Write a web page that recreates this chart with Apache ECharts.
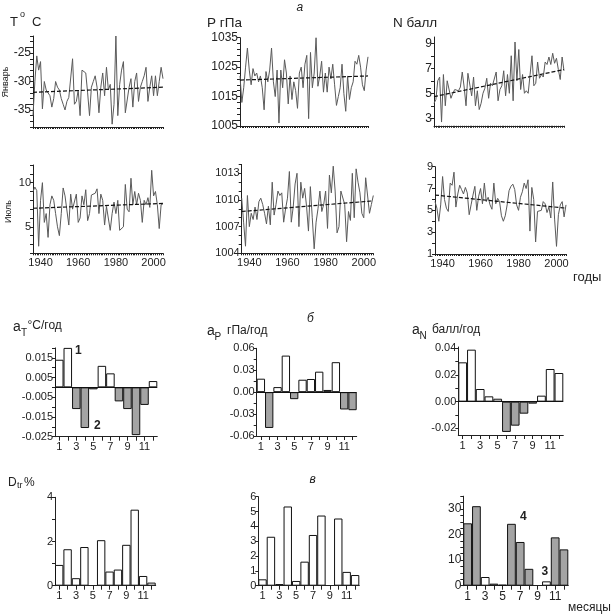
<!DOCTYPE html>
<html><head><meta charset="utf-8">
<script src="https://cdn.jsdelivr.net/npm/echarts@6/dist/echarts.min.js"></script>
<style>html,body{margin:0;padding:0;background:#fff}#c{width:611px;height:616px}</style>
</head><body><div id="c"></div>
<script>
// ---------- DATA ----------
const firstYear = 1936, lastYear = 2005;
const tJan = [-36,-30,-25.5,-28,-26.5,-34.8,-30,-31.5,-31.8,-32.5,
 -34.5,-33,-30,-31,-31.5,-33,-34,-35,-33.5,-32.8,
 -32.5,-26,-34,-33.5,-31.5,-36,-28,-28.2,-28.5,-32,
 -36,-31,-30,-29,-31,-35.5,-31,-28.5,-32.5,-27.5,
 -31.5,-30.5,-37.5,-34,-22,-36,-30.5,-28,-26.5,-35.5,
 -35.5,-31,-29.5,-34.5,-30,-28.5,-33.5,-31,-30,-29,
 -27.5,-33.5,-31,-29,-32.5,-29,-32.5,-30,-27.5,-29.5];
const pJan = [1022,1013,1018,1025,1031.5,1024,1019,1024.5,1022,1023,
 1020,1022,1018,1010.5,1023.5,1020,1024,1031.5,1020,1015,
 1024,1006,1024,1018,1027.5,1023,1012.5,1022,1014,1020,
 1017,1011,1023,1025,1018,1026,1029,1007.5,1030,1018,
 1023,1035,1018.5,1022,1027,1016.5,1023,1016.5,1025,1021,
 1026,1019,1012,1015,1018,1026,1016,1010,1022,1014,
 1018,1020,1027,1026,1029,1025,1019,1017,1024,1028.5];
const nJan = [4.2,4.5,6.0,6.3,2.7,6.5,4.0,6.0,5.9,4.6,
 5.0,5.3,5.4,5.2,5.5,6.7,5.5,4.0,6.6,6.6,
 4.8,6.3,4.0,5.2,3.7,4.2,5.0,5.4,6.2,4.6,
 5.8,5.6,5.5,6.7,4.4,5.3,5.6,6.8,4.8,6.5,
 5.0,8.0,4.4,9.1,6.0,8.5,5.3,6.5,5.0,5.2,
 5.0,6.5,8.0,5.6,5.8,7.5,6.2,6.5,6.3,7.5,
 7.3,7.9,7.3,8.2,7.4,7.8,6.9,6.1,7.9,6.8];
const tJul = [9.0,9.5,9.1,2.8,8.0,10.0,5.5,6.5,3.8,7.5,
 8.5,8.0,6.5,5.0,4.0,6.5,9.4,8.5,8.7,5.2,
 8.7,7.0,7.2,8.7,5.5,6.0,8.5,7.5,9.2,5.7,
 6.5,8.6,8.5,8.8,9.3,6.5,8.7,8.0,5.2,7.3,
 7.5,4.6,6.5,7.8,6.5,8.0,4.6,4.8,5.0,9.8,
 7.0,6.7,10.5,7.5,9.0,7.5,8.8,8.0,5.5,8.0,
 7.5,8.3,7.2,11.4,8.5,9.0,7.5,4.8,7.5,7.6];
const pJul = [1010.2,1007.5,1004.8,1010.5,1007.0,1008.5,1007.8,1009.2,1007.8,1009.8,
 1010.2,1009.5,1008.5,1007.3,1009.3,1007.2,1012,1008.3,1009.5,1011,
 1010.5,1010.8,1007.5,1009,1010.2,1013.2,1007.5,1009.2,1011.8,1013,
 1007,1012,1010.2,1011.3,1009.3,1006.5,1011.5,1008,1004.5,1007.5,
 1009,1011,1008.7,1009.5,1011,1006.8,1012.8,1010.8,1013.8,1011,
 1006.3,1007,1011,1010.8,1009.5,1005.3,1008.7,1007.7,1013,1008,
 1013.5,1012,1010.8,1008.5,1008,1012.5,1012.7,1008.5,1009.5,1010.5];
const nJul = [5.8,5.2,4.0,5.5,8.1,6.0,5.2,4.9,7.5,7.3,
 8.5,5.3,6.5,7.3,6.9,6.5,7.1,6.6,4.6,5.5,
 6.4,7.2,5.0,6.3,7.0,5.6,7.5,5.8,6.2,5.5,
 5.1,7.5,5.6,6.1,5.8,4.5,4.0,4.5,5.5,6.8,
 7.2,7.4,6.9,5.5,5.0,6.2,6.7,7.5,7.0,7.8,
 3.1,7.1,6.0,2.1,4.9,4.8,5.0,5.8,5.6,4.8,
 5.3,4.3,7.6,4.2,1.7,4.6,5.5,5.8,4.4,5.5];
// linear trend end values [first year, last year]
const trendTJan = [-31.9, -31.0];
const trendPJan = [1020.6, 1022.0];
const trendNJan = [4.73, 6.9];
const trendTJul = [7.1, 7.65];
const trendPJul = [1008.7, 1009.9];
const trendNJul = [6.4, 5.2];

const months = ['1','2','3','4','5','6','7','8','9','10','11','12'];
const aT = [0.014,0.020,-0.011,-0.0206,-0.001,0.0109,0.0071,-0.0071,-0.011,-0.0242,-0.0089,0.0032];
const aP = [0.0184,-0.049,0.0069,0.050,-0.0096,0.017,0.018,0.028,0.003,0.041,-0.0237,-0.0247];
const aN = [0.0295,0.039,0.0095,0.004,0.0022,-0.0227,-0.018,-0.009,-0.0015,0.0045,0.0245,0.0215];
const dT = [0.94,1.65,0.34,1.75,null,2.06,0.64,0.73,1.85,3.44,0.44,0.14];
const dP = [0.43,3.3,0.11,5.34,0.32,1.62,3.42,4.73,null,4.53,0.93,0.72];
const dN = [24.4,31.1,3.4,0.8,0.4,24.2,17.1,6.6,null,1.7,18.9,14.2];
// shaded (grey) bars flags
const shadeAT = [0,0,1,1,1,0,0,1,1,1,1,0];
const shadeAP = [0,1,0,0,1,0,0,0,1,0,1,1];
const shadeAN = [0,0,0,0,0,1,1,1,0,0,0,0];
const shadeDT = [0,0,0,0,0,0,0,0,0,0,0,0];
const shadeDP = [0,0,0,0,0,0,0,0,0,0,0,0];
const shadeDN = [1,1,0,1,1,1,1,1,0,0,1,1];

// tick labels
const yearLabelTicks = [1940,1960,1980,2000];
const tickTJan = [-38,-37,-36,-35,-34,-33,-32,-31,-30,-29,-28,-27,-26,-25,-24,-23,-22];
const labTJan = [-35,-30,-25];
const tickPJan = [1005,1007,1009,1011,1013,1015,1017,1019,1021,1023,1025,1027,1029,1031,1033,1035];
const labPJan = [1005,1015,1025,1035];
const tickNJan = [3,4,5,6,7,8,9];
const labNJan = [3,5,7,9];
const tickTJul = [2,3,4,5,6,7,8,9,10,11,12];
const labTJul = [5,10];
const tickPJul = [1004,1005,1006,1007,1008,1009,1010,1011,1012,1013,1014];
const labPJul = [1004,1007,1010,1013];
const tickNJul = [1,2,3,4,5,6,7,8,9];
const labNJul = [1,3,5,7,9];
const tickAT = [-0.025,-0.02,-0.015,-0.01,-0.005,0,0.005,0.01,0.015,0.02];
const labAT = [-0.025,-0.015,-0.005,0.005,0.015];
const tickAP = [-0.06,-0.045,-0.03,-0.015,0,0.015,0.03,0.045,0.06];
const labAP = [-0.06,-0.03,0,0.03,0.06];
const tickAN = [-0.02,-0.01,0,0.01,0.02,0.03,0.04];
const labAN = [-0.02,0,0.02,0.04];
const tickDT = [0,1,2,3,4];
const labDT = [0,2,4];
const tickDP = [0,1,2,3,4,5,6];
const labDP = [0,1,2,3,4,5,6];
const tickDN = [0,2.5,5,7.5,10,12.5,15,17.5,20,22.5,25,27.5,30,32.5,35];
const labDN = [0,10,20,30];

// ---------- BUILD ----------
const years = [];
for (let y = firstYear; y <= lastYear; y++) years.push(y);

const FONT = '"Liberation Sans", Arial, sans-serif';
const TXT = '#222';
const AX = {color:'#222', width:1};
const plain = v => String(v);
const grids = [], xAxes = [], yAxes = [], series = [];

function addTS(box, data, trend, ymin, ymax, ticks, labs, showX, fs) {
  const gi = grids.length;
  grids.push(Object.assign({containLabel:false}, box));
  xAxes.push({type:'value', gridIndex:gi, min:firstYear, max:lastYear,
    axisLine:{show:true, onZero:false, lineStyle:AX},
    axisTick:{show:true, length:2, customValues:years, lineStyle:AX},
    axisLabel:{show:showX, customValues:yearLabelTicks, formatter:plain, fontSize:11, color:TXT, fontFamily:FONT, margin:4},
    splitLine:{show:false}});
  yAxes.push({type:'value', gridIndex:gi, min:ymin, max:ymax,
    axisLine:{show:true, onZero:false, lineStyle:AX},
    axisTick:{show:true, length:3, customValues:ticks, lineStyle:AX},
    axisLabel:{customValues:labs, formatter:plain, fontSize:fs, color:TXT, fontFamily:FONT, margin:2},
    splitLine:{show:false}});
  series.push({type:'line', xAxisIndex:gi, yAxisIndex:gi, data:years.map((y,i)=>[y,data[i]]),
    symbol:'none', lineStyle:{color:'#5a5a5a', width:1}, silent:true, z:2});
  series.push({type:'line', xAxisIndex:gi, yAxisIndex:gi,
    data:[[firstYear,trend[0]],[lastYear,trend[1]]],
    symbol:'none', lineStyle:{color:'#111', width:1.2, type:[4,2]}, silent:true, z:3});
}

function addBars(box, data, shade, ymin, ymax, ticks, labs, fmt, zeroLine, fs) {
  const gi = grids.length;
  grids.push(Object.assign({containLabel:false}, box));
  xAxes.push({type:'category', gridIndex:gi, data:months, boundaryGap:true,
    axisLine:{show:true, onZero:false, lineStyle:AX},
    axisTick:{show:true, alignWithLabel:true, interval:0, length:4, lineStyle:AX},
    axisLabel:{interval:1, fontSize:fs, color:TXT, fontFamily:FONT, margin:5},
    splitLine:{show:false}});
  yAxes.push({type:'value', gridIndex:gi, min:ymin, max:ymax,
    axisLine:{show:true, onZero:false, lineStyle:AX},
    axisTick:{show:true, length:3, customValues:ticks, lineStyle:AX},
    axisLabel:{customValues:labs, fontSize:fs, color:TXT, fontFamily:FONT, margin:2, formatter:fmt},
    splitLine:{show:false}});
  const s = {type:'bar', xAxisIndex:gi, yAxisIndex:gi, barCategoryGap:'0%', silent:true,
    data:data.map((v,i)=>({value:v, itemStyle:{color: shade[i] ? '#a4a4a4' : '#ffffff', borderColor:'#111', borderWidth:1}}))};
  if (zeroLine) s.markLine = {silent:true, symbol:'none', label:{show:false},
    lineStyle:{color:'#111', width:1, type:'solid'}, data:[{yAxis:0}]};
  series.push(s);
}

// Row 1 - January
addTS({left:33, top:36, width:130, height:91}, tJan, trendTJan, -38, -22, tickTJan, labTJan, false, 12);
addTS({left:240, top:37.7, width:128, height:88.3}, pJan, trendPJan, 1005, 1035, tickPJan, labPJan, false, 12);
addTS({left:434, top:37, width:130, height:88.8}, nJan, trendNJan, 2.4, 9.5, tickNJan, labNJan, false, 12);
// Row 2 - July
addTS({left:33, top:165, width:130, height:88.3}, tJul, trendTJul, 2, 12, tickTJul, labTJul, true, 11);
addTS({left:241.7, top:164.4, width:131.6, height:88.9}, pJul, trendPJul, 1004, 1014, tickPJul, labPJul, true, 11);
addTS({left:435, top:166.7, width:131, height:87.3}, nJul, trendNJul, 1, 9, tickNJul, labNJul, true, 11);
// Row 3 - trends
addBars({left:55, top:347.9, width:102.3, height:88.8}, aT, shadeAT, -0.025, 0.02, tickAT, labAT, v=>v.toFixed(3), true, 11);
addBars({left:256.7, top:348.3, width:100, height:87.7}, aP, shadeAP, -0.06, 0.06, tickAP, labAP, v=>v.toFixed(2), true, 11);
addBars({left:458.3, top:347, width:105, height:88}, aN, shadeAN, -0.025, 0.041, tickAN, labAN, v=>v.toFixed(2), true, 11);
// Row 4 - D_tr
addBars({left:55, top:497.3, width:100.7, height:88.4}, dT, shadeDT, 0, 4, tickDT, labDT, plain, false, 11);
addBars({left:258.3, top:496.7, width:101, height:89}, dP, shadeDP, 0, 6, tickDP, labDP, plain, false, 11);
addBars({left:463.3, top:496.2, width:105, height:89.5}, dN, shadeDN, 0, 35, tickDN, labDN, plain, false, 12);

function txt(x, y, s, font, extra) {
  return Object.assign({type:'text', x:x, y:y, silent:true, z:100,
    style:{text:s, fill:TXT, font:font, align:'left', verticalAlign:'middle', textAlign:'left', textVerticalAlign:'middle'}}, extra||{});
}
const F = (sz, pre) => (pre ? pre + ' ' : '') + sz + 'px ' + FONT;
const graphics = [
  txt(296.5, 8, 'а', F(12,'italic')),
  txt(307, 318.5, 'б', F(12,'italic')),
  txt(309.5, 480, 'в', F(12,'italic')),
  // row1 titles
  txt(10, 22.5, 'T', F(13)),
  txt(20, 15, 'o', F(9)),
  txt(32, 22.5, 'C', F(13)),
  txt(207, 23.5, 'P гПа', F(13.5)),
  txt(393, 23.5, 'N балл', F(13.5)),
  // side labels
  {type:'text', x:6, y:82, rotation:Math.PI/2, silent:true,
    style:{text:'Январь', fill:TXT, font:F(9), align:'center', verticalAlign:'middle', textAlign:'center', textVerticalAlign:'middle'}},
  {type:'text', x:8.5, y:211.5, rotation:Math.PI/2, silent:true,
    style:{text:'Июль', fill:TXT, font:F(9), align:'center', verticalAlign:'middle', textAlign:'center', textVerticalAlign:'middle'}},
  txt(573, 277, 'годы', F(13)),
  // row3 titles
  txt(13, 327, 'a', F(14)),
  txt(21, 333, 'T', F(10)),
  txt(27.5, 326, '°C/год', F(12)),
  txt(207, 331.5, 'a', F(14)),
  txt(214.5, 337, 'P', F(10)),
  txt(227, 331, 'гПа/год', F(12)),
  txt(412, 330, 'a', F(14)),
  txt(419.5, 336, 'N', F(10)),
  txt(432, 330, 'балл/год', F(12)),
  // row4 title
  txt(8, 483, 'D', F(12)),
  txt(17, 486, 'tr', F(9)),
  txt(24, 483, '%', F(12)),
  txt(568, 607.5, 'месяцы', F(12)),
  // legend numbers
  txt(75, 351, '1', F(12,'bold')),
  txt(94, 425.5, '2', F(12,'bold')),
  txt(520, 517, '4', F(12,'bold')),
  txt(541.5, 572, '3', F(12,'bold'))
];

const chart = echarts.init(document.getElementById('c'), null, {renderer:'canvas'});
chart.setOption({
  animation:false,
  backgroundColor:'#ffffff',
  textStyle:{fontFamily:FONT},
  grid:grids, xAxis:xAxes, yAxis:yAxes, series:series,
  graphic:{elements:graphics}
});
</script></body></html>
